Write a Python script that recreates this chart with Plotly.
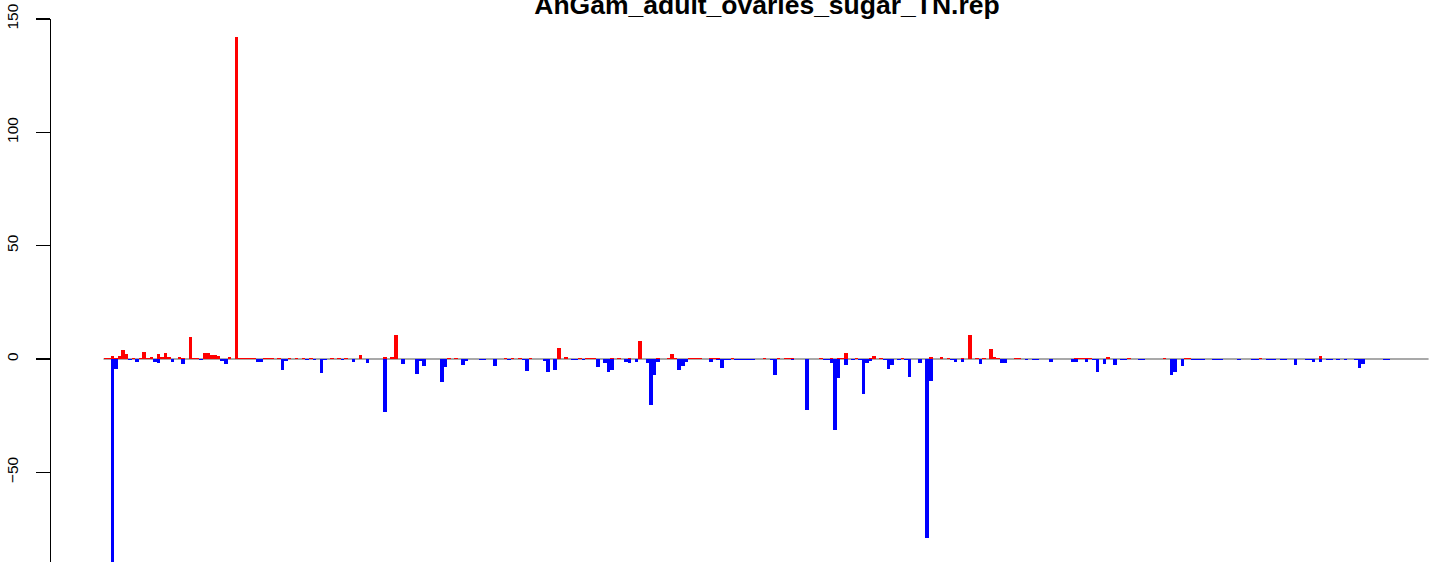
import plotly.graph_objects as go

title_text = "AnGam_adult_ovaries_sugar_TN.rep"
n_bars = 374

# red (up) series: bar index -> value
up_idx = [0, 1, 2, 3, 4, 5, 6, 8, 10, 11, 12, 13, 15, 16, 17, 18, 21, 22, 24, 25,
          26, 28, 29, 30, 31, 32, 35, 37, 38, 39, 40, 41, 42, 45, 46, 47, 49, 52, 54, 56,
          58, 64, 66, 68, 72, 79, 81, 82, 97, 99, 113, 115, 117, 120, 128, 130, 134, 136, 137, 138,
          143, 145, 148, 151, 156, 159, 160, 161, 165, 166, 167, 168, 171, 172, 173, 177, 186, 190, 192, 193,
          194, 202, 205, 207, 208, 209, 212, 216, 217, 219, 225, 233, 236, 238, 242, 244, 246, 248, 250, 251,
          252, 257, 258, 274, 275, 276, 277, 278, 283, 289, 299, 305, 306, 326, 343]
up_val = [0.3, 0.3, 1.5, 0.3, 1.3, 4.0, 2.2, 0.3, 0.4, 3.1, 0.3, 0.9, 2.2, 0.9, 2.6, 0.9, 0.9, 0.4, 9.7, 0.3,
          0.3, 2.6, 2.6, 1.8, 1.8, 1.3, 0.9, 142.0, 0.4, 0.3, 0.3, 0.3, 0.3, 0.3, 0.3, 0.3, 0.3, 0.3, 0.3, 0.3,
          0.3, 0.3, 0.3, 0.3, 1.8, 0.9, 0.9, 10.8, 0.5, 0.3, 0.3, 0.3, 0.3, 0.4, 4.9, 0.9, 0.3, 0.3, 0.3, 0.3,
          0.3, 0.4, 0.3, 7.9, 0.3, 0.3, 2.2, 0.3, 0.3, 0.3, 0.3, 0.3, 0.4, 0.3, 0.3, 0.3, 0.3, 0.3, 0.3, 0.3,
          0.3, 0.3, 0.3, 0.3, 0.3, 2.6, 0.3, 0.3, 1.3, 0.3, 0.3, 0.9, 0.9, 0.3, 0.3, 10.4, 0.4, 0.3, 4.4, 0.9,
          0.3, 0.3, 0.3, 0.3, 0.3, 0.4, 0.3, 0.3, 0.9, 0.3, 0.3, 0.3, 0.3, 0.3, 1.5]

# blue (down) series: bar index -> value
down_idx = [2, 3, 7, 9, 14, 15, 19, 22, 27, 33, 34, 43, 44, 50, 51, 57, 59, 61, 62, 67,
            70, 74, 79, 84, 88, 89, 90, 95, 96, 101, 102, 106, 107, 110, 114, 118, 119, 124, 125, 127,
            132, 133, 135, 139, 141, 142, 143, 147, 148, 150, 153, 154, 155, 156, 162, 163, 164, 171, 173, 174,
            175, 176, 178, 179, 180, 181, 182, 183, 188, 189, 194, 198, 203, 204, 205, 206, 207, 209, 211, 213,
            214, 215, 216, 220, 221, 222, 224, 226, 227, 230, 232, 233, 239, 240, 242, 247, 253, 254, 260, 262,
            263, 267, 273, 274, 277, 279, 280, 282, 285, 287, 288, 292, 293, 301, 302, 304, 307, 308, 309, 310,
            313, 314, 315, 320, 324, 325, 328, 329, 330, 332, 333, 336, 339, 340, 341, 343, 345, 346, 348, 350,
            353, 354, 355, 361, 362]
down_val = [-92.0, -4.3, -0.5, -1.2, -1.2, -1.6, -1.2, -2.0, -0.5, -0.9, -2.0, -1.2, -1.2, -4.8, -0.9, -0.5, -0.5, -6.0, -0.5, -0.5,
            -1.3, -1.8, -23.2, -2.2, -6.5, -0.9, -3.1, -10.0, -3.4, -2.5, -0.9, -0.5, -0.5, -2.9, -0.5, -0.6, -5.1, -0.7, -5.6, -4.7,
            -0.5, -0.5, -0.5, -3.5, -1.8, -5.6, -4.7, -1.3, -1.8, -1.3, -1.6, -20.3, -6.9, -1.3, -4.7, -2.9, -1.3, -1.3, -0.5, -4.0,
            -0.5, -0.5, -0.5, -0.5, -0.5, -0.5, -0.5, -0.5, -0.5, -6.9, -0.5, -22.5, -0.5, -0.5, -1.6, -31.3, -8.2, -2.5, -0.5, -0.5,
            -15.3, -1.6, -0.9, -0.5, -4.3, -2.5, -0.5, -0.5, -7.8, -1.6, -79.0, -9.6, -0.5, -1.3, -1.2, -2.1, -1.6, -1.6, -0.5, -0.5,
            -0.5, -1.3, -1.3, -1.3, -1.3, -0.5, -5.7, -2.2, -2.6, -0.5, -0.5, -0.5, -0.5, -7.0, -5.6, -3.0, -0.5, -0.5, -0.5, -0.5,
            -0.5, -0.5, -0.5, -0.5, -0.5, -0.5, -0.5, -0.5, -0.5, -0.5, -0.5, -2.6, -0.5, -0.5, -1.2, -1.2, -0.5, -0.5, -0.5, -0.5,
            -0.5, -3.8, -2.0, -0.5, -0.5]

y_ticks = [-50, 0, 50, 100, 150]
y_ticktext = ["\u221250", "0", "50", "100", "150"]

categories = list(range(n_bars))
up = [0.0] * n_bars
for i, v in zip(up_idx, up_val):
    up[i] = v
down = [0.0] * n_bars
for i, v in zip(down_idx, down_val):
    down[i] = v

W, H = 1429, 562
left_px, top_px = 51, 19
bar_px = 3.543
first_bar_px = 103.5
zero_px = 359.0
unit_px = 340.0 / 150.0

x_min = -0.5 - (first_bar_px - left_px) / bar_px
x_max = -0.5 + (W - first_bar_px) / bar_px
y_max = 150.0
y_min = -(H - zero_px) / unit_px

fig = go.Figure()
fig.add_trace(go.Bar(x=categories, y=up, marker=dict(color="#FF0000", line=dict(width=0)), width=1.0))
fig.add_trace(go.Bar(x=categories, y=down, marker=dict(color="#0000FF", line=dict(width=0)), width=1.0))

fig.add_shape(type="line", xref="x", yref="y", x0=-0.5, x1=n_bars - 0.5, y0=0, y1=0,
              line=dict(color="#A9A9A9", width=2), layer="below")

fig.update_layout(
    width=W, height=H,
    margin=dict(l=left_px, r=0, t=top_px, b=0, pad=0),
    paper_bgcolor="white", plot_bgcolor="white",
    barmode="overlay", bargap=0,
    showlegend=False,
    font=dict(family="Liberation Sans, Arial, sans-serif", color="black"),
    title=dict(text="<b>" + title_text + "</b>", xref="container", yref="container",
               x=767 / W, xanchor="center", y=1 - 5 / H, yanchor="middle",
               font=dict(size=26.5, color="black", family="Liberation Sans, Arial, sans-serif")),
    xaxis=dict(visible=False, range=[x_min, x_max], fixedrange=True),
    yaxis=dict(range=[y_min, y_max], tickvals=y_ticks, ticktext=y_ticktext,
               tickangle=-90, ticks="outside", ticklen=14, tickwidth=1.3, tickcolor="black",
               showline=True, linecolor="black", linewidth=1.3, showgrid=False, zeroline=False,
               automargin=False, fixedrange=True,
               tickfont=dict(size=15.5, color="black"), ticklabelstandoff=12),
)

fig.write_html("out.html", config={"displayModeBar": False, "staticPlot": True},
               post_script="document.body.style.margin='0';document.body.style.overflow='hidden';")
